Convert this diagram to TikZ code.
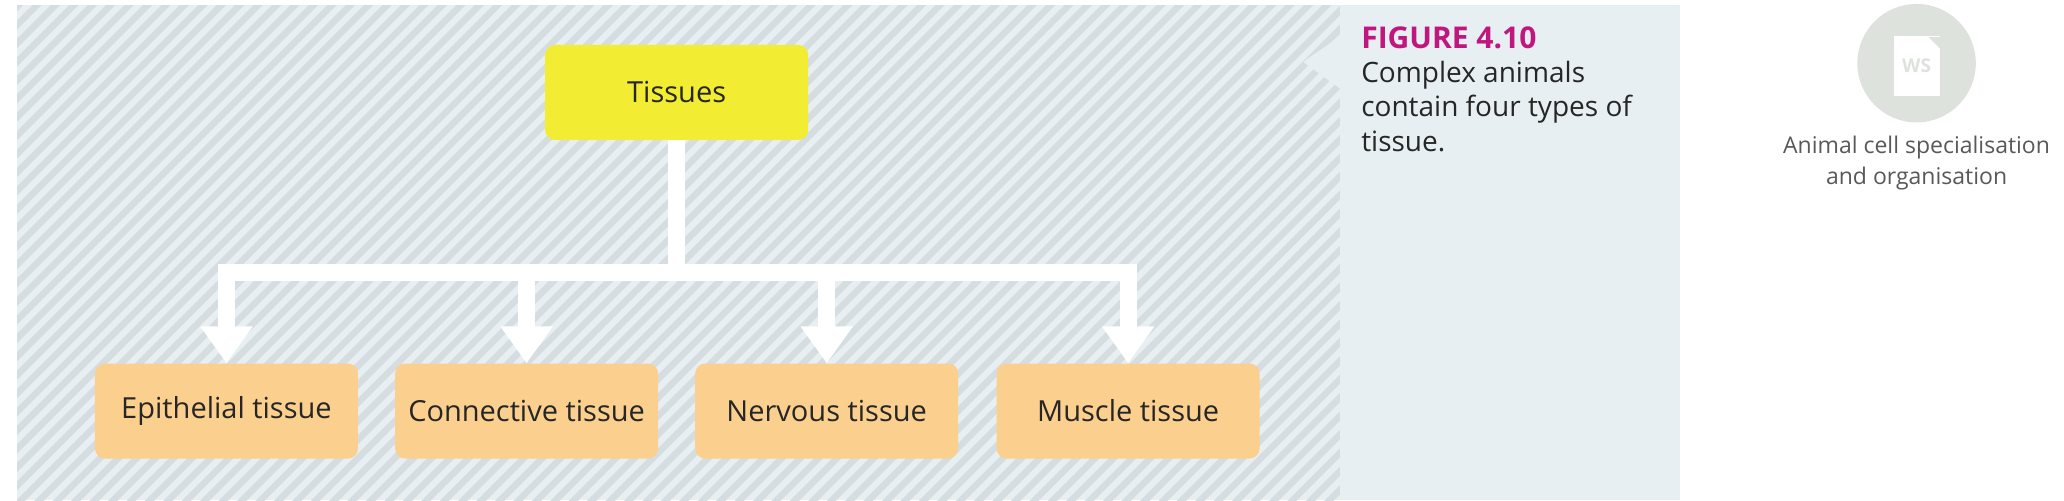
\documentclass[tikz,border=0pt]{standalone}
\usepackage{fontspec}
\setmainfont{Open Sans}
\usetikzlibrary{arrows.meta}
\definecolor{hatchbg}{HTML}{E8EFF3}
\definecolor{hatchfg}{HTML}{D6DDE1}
\definecolor{tyellow}{HTML}{F2EC32}
\definecolor{torange}{HTML}{FBCF8E}
\definecolor{figmag}{HTML}{C0177F}
\definecolor{iconbg}{HTML}{DDE3DC}
\begin{document}
\begin{tikzpicture}[x=1.3163pt,y=-1.3163pt,
  box/.style={rounded corners=10pt,minimum width=263pt,minimum height=95pt,inner sep=0pt,font=\fontsize{29}{32}\selectfont,text=black!85},
  conn/.style={draw=white,line width=17pt,line join=miter,-{Triangle[width=50pt,length=37pt,fill=white]}}]
\useasboundingbox (0,0) rectangle (1568,380);
\fill[white] (0,0) rectangle (1568,380);
\begin{scope}
\clip (13,4) rectangle (1018,380);
\fill[hatchbg] (13,4) rectangle (1018,380);
\foreach \i in {-400,-386,...,1040} \draw[hatchfg,line width=6.5pt] (\i,390)--(\i+390,0);
\end{scope}
\fill[hatchbg] (1018,4) rectangle (1276,380);
\fill[hatchbg] (1019,27) -- (990,47) -- (1019,68) -- cycle;
\node[box,fill=tyellow,anchor=north west] (t) at (414,34) {Tissues};
\node[box,fill=torange,anchor=north west] (e) at (72,276) {Epithelial tissue};
\node[box,fill=torange,anchor=north west] (c) at (300,276) {Connective tissue};
\node[box,fill=torange,anchor=north west] (n) at (528,276) {Nervous tissue};
\node[box,fill=torange,anchor=north west] (m) at (757,276) {Muscle tissue};
\coordinate (j) at (t.south |- 0,207);
\foreach \k in {e,c,n,m} \draw[conn] (t.south) -- (j) -| (\k.north);
\node[anchor=north west,inner sep=0pt,text=figmag,font=\fontsize{30}{32}\bfseries\selectfont] (ft) at (1034,20) {FIGURE 4.10};
\node[anchor=north west,inner sep=0pt,align=left,text=black!85,font=\fontsize{28}{34.5}\selectfont] (cap) at (1034,46) {Complex animals\\contain four types of\\tissue.};
\fill[iconbg] (1456,48) circle (45);
\node[fill=white,minimum width=46pt,minimum height=60pt,inner sep=0pt,text=iconbg,font=\fontsize{19}{20}\bfseries\selectfont] (ws) at (1456,50) {WS};
\fill[iconbg] (1465,28) -- (1474,28) -- (1474,37) -- cycle;
\node[align=center,inner sep=0pt,text=black!65,font=\fontsize{23}{31}\selectfont] (lbl) at (1456,124) {Animal cell specialisation\\and organisation};
\end{tikzpicture}
\end{document}
